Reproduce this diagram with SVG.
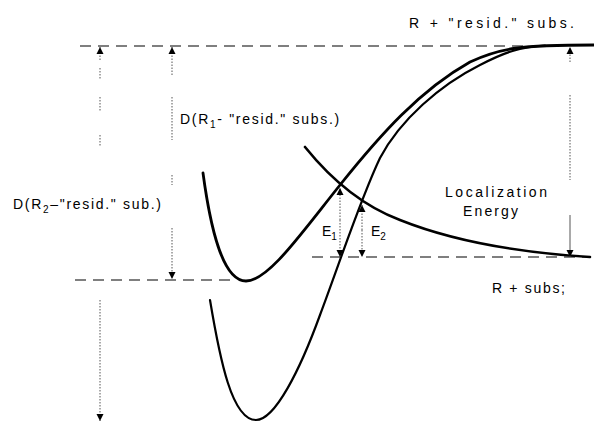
<svg xmlns="http://www.w3.org/2000/svg" width="594" height="422" viewBox="0 0 594 422">
<style>
.curve{fill:none;stroke:#000;stroke-linecap:round;stroke-linejoin:round}
.dash{fill:none;stroke:#000;stroke-width:1.2;stroke-dasharray:11 7}
.dot{fill:none;stroke:#555;stroke-width:1;stroke-dasharray:1.5 1.5}
.lbl{font-family:"Liberation Sans",Arial,sans-serif;font-size:14px;fill:#000}
.wide{letter-spacing:1.7px}
.sub{font-size:10px}
</style>
<defs>
<marker id="ah" viewBox="0 0 10 10" refX="10" refY="5" markerWidth="7" markerHeight="8" markerUnits="userSpaceOnUse" orient="auto">
<path d="M0,0 L10,5 L0,10 Z" fill="#000"/>
</marker>
</defs>
<rect width="594" height="422" fill="#fff"/>
<g id="reference-lines">
<line class="dash" x1="80" y1="46" x2="528" y2="46"/>
<line class="dash" x1="75" y1="280" x2="232" y2="280"/>
<line class="dash" x1="312" y1="257" x2="590" y2="257"/>
</g>
<g id="curves">
<path id="upper-well" class="curve" stroke-width="2.8" d="M203,173 C210,225 222,281 246,281 C268,281 300,235 340,185 C380,135 420,90 470,62 C500,48 520,45 594,45"/>
<path id="lower-well" class="curve" stroke-width="2.2" d="M210,300 C220,360 232,420 256,420 C275,420 300,370 320,315 C340,262 360,200 380,158 C400,120 440,85 480,65 C505,52 520,47 545,45.5"/>
<path id="repulsive" class="curve" stroke-width="2.6" d="M305,147 C330,178 360,205 400,220 C450,240 510,252 590,257"/>
</g>
<g id="connectors">
<line class="dot" x1="100" y1="60" x2="100" y2="47" marker-end="url(#ah)"/>
<line class="dot" x1="100" y1="68" x2="100" y2="80"/>
<line class="dot" x1="100" y1="97" x2="100" y2="112"/>
<line class="dot" x1="100" y1="135" x2="100" y2="147"/>
<line class="dot" x1="100" y1="300" x2="100" y2="421" marker-end="url(#ah)"/>
<line class="dot" x1="172" y1="75" x2="172" y2="47" marker-end="url(#ah)"/>
<line class="dot" x1="172" y1="97" x2="172" y2="140"/>
<line class="dot" x1="172" y1="175" x2="172" y2="185"/>
<line class="dot" x1="172" y1="228" x2="172" y2="279" marker-end="url(#ah)"/>
<line class="dot" x1="340" y1="220" x2="340" y2="188" marker-end="url(#ah)"/>
<line class="dot" x1="340" y1="220" x2="340" y2="257" marker-end="url(#ah)"/>
<line class="dot" x1="362" y1="230" x2="362" y2="205" marker-end="url(#ah)"/>
<line class="dot" x1="362" y1="230" x2="362" y2="257" marker-end="url(#ah)"/>
<line class="dot" x1="570" y1="62" x2="570" y2="47" marker-end="url(#ah)"/>
<line class="dot" x1="570" y1="95" x2="570" y2="180"/>
<line x1="570" y1="215" x2="570" y2="257" stroke="#555" stroke-width="1" marker-end="url(#ah)"/>
</g>
<g id="labels">
<text class="lbl" x="409" y="28" textLength="165" lengthAdjust="spacing">R + "resid." subs.</text>
<text class="lbl wide" x="180" y="124">D(R<tspan class="sub" dy="4">1</tspan><tspan dy="-4">- "resid." subs.)</tspan></text>
<text class="lbl wide" x="13" y="209">D(R<tspan class="sub" dy="4">2</tspan><tspan dy="-4">–"resid." sub.)</tspan></text>
<text class="lbl" x="445" y="197" textLength="102" lengthAdjust="spacing">Localization</text>
<text class="lbl" x="463" y="216" textLength="55" lengthAdjust="spacing">Energy</text>
<text class="lbl" x="492" y="293" textLength="73" lengthAdjust="spacing">R + subs;</text>
<text class="lbl" x="322" y="236">E<tspan class="sub" dy="4">1</tspan></text>
<text class="lbl" x="371" y="236">E<tspan class="sub" dy="4">2</tspan></text>
</g>
</svg>
